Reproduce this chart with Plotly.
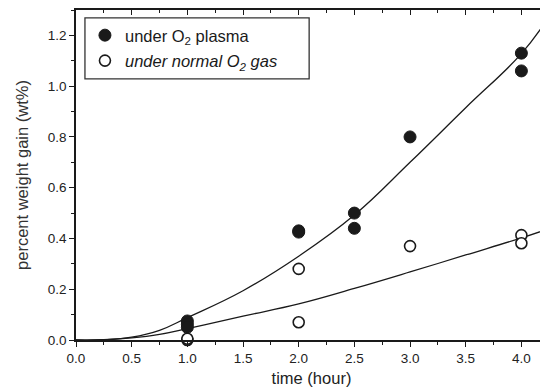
import plotly.graph_objects as go

plasma_t = [1.0, 1.0, 1.0, 2.0, 2.0, 2.5, 2.5, 3.0, 4.0, 4.0]
plasma_w = [0.075, 0.062, 0.05, 0.43, 0.425, 0.50, 0.44, 0.80, 1.13, 1.06]

gas_t = [1.0, 1.0, 2.0, 2.0, 3.0, 4.0, 4.0]
gas_w = [0.0, 0.005, 0.28, 0.07, 0.37, 0.413, 0.381]

# Fit curves
fit_t = [0.0, 0.25, 0.5, 0.75, 1.0, 1.5, 2.0, 2.5, 3.0, 3.5, 4.0, 4.23]
fit_plasma = [0.0, 0.001, 0.011, 0.038, 0.088, 0.194, 0.33, 0.492, 0.70, 0.915, 1.128, 1.262]
fit_gas = [0.0, 0.001, 0.008, 0.022, 0.045, 0.094, 0.142, 0.203, 0.268, 0.335, 0.402, 0.436]

x_ticks = [0.0, 0.5, 1.0, 1.5, 2.0, 2.5, 3.0, 3.5, 4.0]
y_ticks = [0.0, 0.2, 0.4, 0.6, 0.8, 1.0, 1.2]

FONT = "Liberation Sans, Arial, sans-serif"
INK = "#1a1a1a"

fig = go.Figure()

fig.add_trace(go.Scatter(x=fit_t, y=fit_plasma, mode="lines",
                         line=dict(color=INK, width=1.3, shape="spline", smoothing=1.2),
                         showlegend=False, hoverinfo="skip"))
fig.add_trace(go.Scatter(x=fit_t, y=fit_gas, mode="lines",
                         line=dict(color=INK, width=1.3, shape="spline", smoothing=1.2),
                         showlegend=False, hoverinfo="skip"))

fig.add_trace(go.Scatter(x=plasma_t, y=plasma_w, mode="markers", name="under O<sub>2</sub> plasma",
                         legendgroup="a",
                         marker=dict(symbol="circle", size=12, color=INK, line=dict(color=INK, width=1)),
                         cliponaxis=False))
fig.add_trace(go.Scatter(x=gas_t, y=gas_w, mode="markers", name="<i>under normal O<sub>2</sub> gas</i>",
                         legendgroup="b",
                         marker=dict(symbol="circle", size=11, color="white", line=dict(color=INK, width=1.6)),
                         cliponaxis=False))

# dummy trace for mirrored (top/right) axes with inward ticks
fig.add_trace(go.Scatter(x=[None], y=[None], xaxis="x2", yaxis="y2", showlegend=False, hoverinfo="skip"))

XR = [0, 4.23]
YR = [0, 1.3]

common = dict(showgrid=False, zeroline=False, showline=True, linecolor=INK, linewidth=1.5,
              tickwidth=1.2, tickcolor=INK, ticklen=5, automargin=False)

# legend frame
fig.add_shape(type="rect", xref="paper", yref="paper", x0=0.019, x1=0.495, y0=0.791, y1=0.976,
              line=dict(color="#333", width=1.3), fillcolor="white", layer="below")

fig.update_layout(
    width=540, height=384,
    margin=dict(l=68, r=1, t=2, b=52, autoexpand=False),
    paper_bgcolor="white", plot_bgcolor="white",
    font=dict(family=FONT, size=13, color=INK),
    showlegend=True,
    legend=dict(x=0.019, y=0.976, xanchor="left", yanchor="top",
                bgcolor="rgba(0,0,0,0)", borderwidth=0,
                font=dict(family=FONT, size=16.5, color=INK),
                tracegroupgap=1, itemwidth=30),
    xaxis=dict(range=XR, tickvals=x_ticks, ticktext=[f"{v:.1f}" for v in x_ticks], ticks="outside",
               minor=dict(ticks="outside", dtick=0.25, tick0=0, ticklen=3, tickcolor=INK, tickwidth=1),
               title=dict(text="time (hour)", font=dict(size=16.5, color="#222"), standoff=7),
               tickfont=dict(size=13.5, color="#222"), **common),
    yaxis=dict(range=YR, tickvals=y_ticks, ticktext=[f"{v:.1f}" for v in y_ticks], ticks="outside",
               minor=dict(ticks="outside", dtick=0.1, tick0=0, ticklen=3, tickcolor=INK, tickwidth=1),
               title=dict(text="percent weight gain (wt%)", font=dict(size=16.5, color="#333"), standoff=15),
               tickfont=dict(size=13.5, color="#222"), **common),
    xaxis2=dict(range=XR, overlaying="x", side="top", anchor="y2", tickvals=x_ticks, showticklabels=False,
                ticks="inside",
                minor=dict(ticks="inside", dtick=0.25, tick0=0, ticklen=3, tickcolor=INK, tickwidth=1), **common),
    yaxis2=dict(range=YR, overlaying="y", side="right", anchor="x2", tickvals=y_ticks, showticklabels=False,
                ticks="inside",
                minor=dict(ticks="inside", dtick=0.1, tick0=0, ticklen=3, tickcolor=INK, tickwidth=1), **common),
)

fig.write_html("out.html")
